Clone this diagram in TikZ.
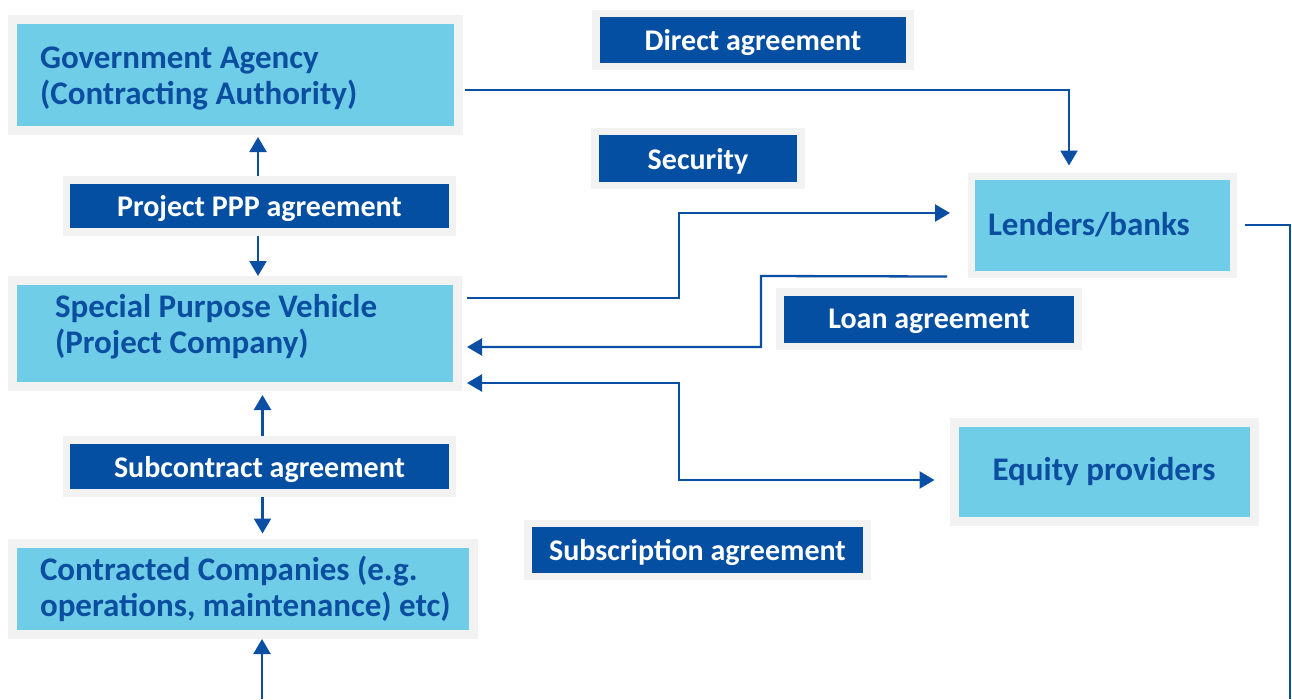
\documentclass[tikz,border=0pt]{standalone}
\usepackage{fontspec}
\setmainfont{Carlito}
\usetikzlibrary{arrows.meta}
\definecolor{bordergray}{HTML}{F2F2F2}
\definecolor{cyanfill}{HTML}{6FCDE7}
\definecolor{textblue}{HTML}{0B4EA0}
\definecolor{labblue}{HTML}{054FA3}
\definecolor{lineblue}{HTML}{0A4FA3}
\newcommand{\boxfont}{\fontsize{33}{36}\selectfont\bfseries}
\newcommand{\labfont}{\fontsize{30}{32}\selectfont\bfseries}
\newcommand{\natsp}{\frenchspacing\spaceskip=0pt\xspaceskip=0pt\relax}
\tikzset{
  bigbox/.style={draw=bordergray, line width=9pt, fill=cyanfill, text=textblue,
    font=\boxfont, inner ysep=0pt, align=left},
  labbox/.style={draw=bordergray, line width=7.5pt, fill=labblue, text=white,
    font=\labfont, inner sep=0pt, align=center, text depth=0pt},
  conn/.style={draw=lineblue, line width=2.3pt},
  arr/.style={conn, -{Triangle[length=15pt,width=17pt]}},
  darr/.style={conn, {Triangle[length=15pt,width=17pt]}-{Triangle[length=15pt,width=17pt]}}
}
\begin{document}
\begin{tikzpicture}[x=1pt,y=-1pt]
\useasboundingbox (0,0) rectangle (1292,699);
% boxes
\node[bigbox, minimum width=446pt, minimum height=111pt, inner xsep=27.5pt, text width=391pt]
  (gov) at (235.5,75) {\natsp\rule{0pt}{29pt}Government Agency\\\natsp (Contracting Authority)};
\node[bigbox, minimum width=445pt, minimum height=106pt, inner xsep=42.5pt, text width=360pt]
  (spv) at (235,333.5) {\natsp Special Purpose Vehicle\\\natsp (Project Company)\rule[-20pt]{0pt}{1pt}};
\node[bigbox, minimum width=461pt, minimum height=91.5pt, inner xsep=27.5pt, text width=406pt]
  (cc) at (243,588.75) {\natsp\mbox{Contracted Companies (e.g.}\\\natsp\mbox{operations, maintenance) etc)}};
\node[bigbox, line width=7pt, minimum width=262pt, minimum height=98pt, inner xsep=16.5pt, text width=229pt]
  (lend) at (1102.5,225) {Lenders/banks};
\node[bigbox, minimum width=300pt, minimum height=99pt, inner xsep=0pt, align=center]
  (eq) at (1104,471.5) {Equity providers};
% labels
\node[labbox, minimum width=314pt, minimum height=53pt] (direct) at (753,40) {Direct agreement};
\node[labbox, minimum width=206pt, minimum height=54pt] (sec) at (698,158.5) {Security};
\node[labbox, minimum width=386pt, minimum height=52pt] (ppp) at (259.5,206) {Project PPP agreement};
\node[labbox, minimum width=298pt, minimum height=54.5pt] (loan) at (929,319) {Loan agreement};
\node[labbox, minimum width=386pt, minimum height=53pt] (sub) at (259.5,466.5) {Subcontract agreement};
\node[labbox, minimum width=339pt, minimum height=53pt] (subs) at (697.5,550) {Subscription agreement};
% free ends
\coordinate (bot) at (262,699);
\coordinate (rbot) at (1290,699);
% connectors
\draw[arr] ([xshift=-1.5pt]ppp.north) -- ([xshift=-1.5pt,yshift=-2pt]ppp.north |- gov.south);
\draw[arr] ([xshift=-1.5pt]ppp.south) -- ([xshift=-1.5pt]ppp.south |- spv.north);
\draw[arr] ([xshift=3pt]sub.north) -- ([xshift=3pt,yshift=-4pt]sub.north |- spv.south);
\draw[arr] ([xshift=3pt]sub.south) -- ([xshift=3pt,yshift=5pt]sub.south |- cc.north);
\draw[arr] (bot) -- (bot |- cc.south);
\draw[arr] ([xshift=2pt,yshift=-15pt]gov.east) -| ([xshift=-33.5pt,yshift=7pt]lend.north);
\draw[arr] ([xshift=5pt,yshift=35.5pt]spv.east) -- (679,298) |- ([xshift=-18pt,yshift=12pt]lend.west);
\draw[arr] ([xshift=-21pt,yshift=1pt]lend.south west) -- (761,276) |- ([xshift=5pt,yshift=-13.5pt]spv.east);
\draw[darr] ([xshift=5pt,yshift=-49.5pt]spv.east) -- (679,383) |- ([xshift=-15pt,yshift=-8.5pt]eq.west);
\draw[conn] ([xshift=7.5pt]lend.east) -| (rbot);
\end{tikzpicture}
\end{document}
